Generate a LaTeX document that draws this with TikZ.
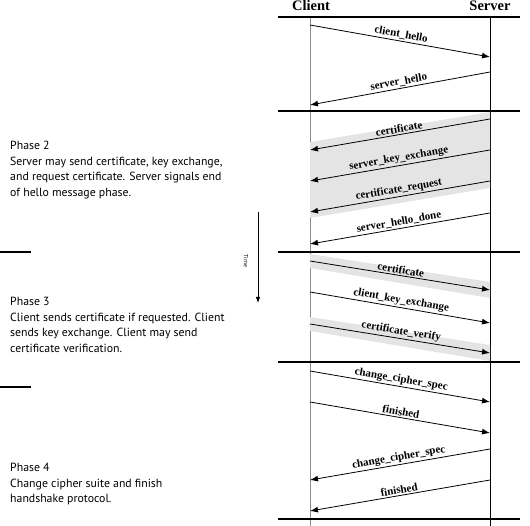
\documentclass[tikz,border=0pt]{standalone}
\usepackage{fontspec}
\setmainfont{Liberation Serif}
\newfontfamily\phasefont{PT Sans}
\usetikzlibrary{arrows.meta,calc}
\definecolor{bandgray}{HTML}{E4E4E4}
\definecolor{lifegray}{HTML}{8C8C8C}
\tikzset{
  msg/.style={line width=0.8pt, draw=black},
  toserver/.style={-{Latex[length=8pt,width=6pt]}},
  toclient/.style={{Latex[length=8pt,width=6pt]}-},
  msglabel/.style={midway, above, sloped, inner sep=1.5pt,
                   font=\fontsize{11}{12}\bfseries\selectfont},
  band/.style={fill=bandgray},
  rule/.style={line width=2.6pt, draw=black},
  lifeline/.style={line width=0.9pt},
  header/.style={font=\fontsize{14.5}{15}\bfseries\selectfont},
  phasetext/.style={anchor=north west, align=left, inner sep=0pt,
                    font=\phasefont\fontsize{11.8}{15.7}\selectfont}
}
\begin{document}
\begin{tikzpicture}[x=1pt,y=-1pt]
        \useasboundingbox (0,0) rectangle (530,526);
        % headers and lifelines
        \node[header] (client) at (311,6) {Client};
        \node[header] (server) at (490,6) {Server};
        \draw[lifeline,draw=lifegray] (310,17) -- (310,526);
        \draw[lifeline,draw=black] (490,17) -- (490,526);
        % phase rules
        \foreach \y in {17,111,252,362,519} {
          \draw[rule] (278,\y) -- (520,\y);
        }
        \draw[rule] (0,252) -- (31,252);
        \draw[rule] (0,387) -- (31,387);
        % message end points on the two lifelines
        \foreach \n/\yc/\ys in {1/25/57,2/105/72,3/150/119,4/181/150,5/212/181,
                                6/244/213,7/261/290,8/292/323,9/324/353,
                                10/371/402,11/402/433,12/480/449,13/511/480} {
          \coordinate (c\n) at (310,\yc);
          \coordinate (s\n) at (490,\ys);
        }
        % shaded optional messages
        \fill[band] ($(c3)+(0,-8)$) -- ($(s3)+(0,-7)$) -- ($(s5)+(0,7)$) -- ($(c5)+(0,6)$) -- cycle;
        \fill[band] ($(c7)+(0,-7)$) -- ($(s7)+(0,-8)$) -- ($(s7)+(0,8)$) -- ($(c7)+(0,7)$) -- cycle;
        \fill[band] ($(c9)+(0,-7)$) -- ($(s9)+(0,-8)$) -- ($(s9)+(0,8)$) -- ($(c9)+(0,7)$) -- cycle;
        % messages
        \foreach \n/\lab/\dir in {1/client\_hello/toserver,2/server\_hello/toclient,
            3/certificate/toclient,4/server\_key\_exchange/toclient,
            5/certificate\_request/toclient,6/server\_hello\_done/toclient,
            7/certificate/toserver,8/client\_key\_exchange/toserver,
            9/certificate\_verify/toserver,10/change\_cipher\_spec/toserver,
            11/finished/toserver,12/change\_cipher\_spec/toclient,
            13/finished/toclient} {
          \draw[msg,\dir] (c\n) -- node[msglabel] {\lab} (s\n);
        }
        % time axis
        \coordinate (t0) at (258,212);
        \coordinate (t1) at (258,303);
        \draw[line width=0.8pt,-{Latex[length=6pt,width=4.5pt]}] (t0) -- (t1);
        \node[font=\phasefont\fontsize{6}{6}\selectfont,rotate=-90] (time) at (246,261) {Time};
        % phase descriptions
        \node[phasetext] (phase2) at (10,141)
          {Phase 2\\Server may send certificate, key exchange,\\and request certificate. Server signals end\\of hello message phase.};
        \node[phasetext] (phase3) at (10,297)
          {Phase 3\\Client sends certificate if requested. Client\\sends key exchange. Client may send\\certificate verification.};
        \node[phasetext] (phase4) at (10,463)
          {Phase 4\\Change cipher suite and finish\\handshake protocol.};
      \end{tikzpicture}
\end{document}
